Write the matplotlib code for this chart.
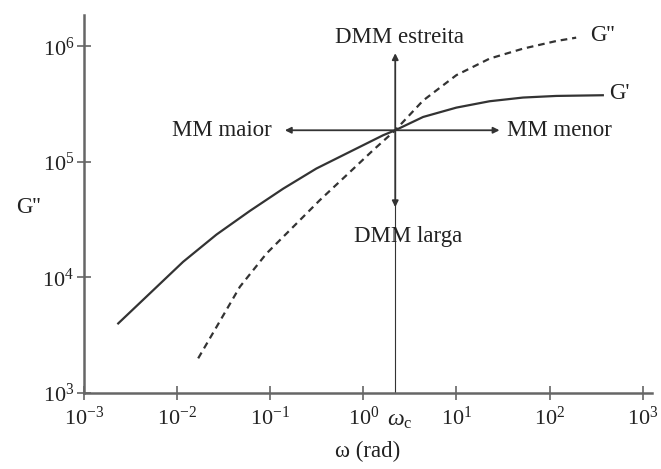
import matplotlib
matplotlib.use('Agg')
import matplotlib.pyplot as plt

plt.rcParams['font.family'] = ['Liberation Serif', 'DejaVu Serif']
plt.rcParams['mathtext.fontset'] = 'custom'
plt.rcParams['mathtext.rm'] = 'Liberation Serif'
plt.rcParams['mathtext.it'] = 'Liberation Serif:italic'

# storage modulus G'
w_g1 = [0.00233, 0.0051, 0.0116, 0.0265, 0.0604, 0.1374, 0.313, 0.714, 1.63, 2.2,
        4.38, 9.98, 22.7, 51.8, 118, 373]
g1 = [4000, 7280, 13650, 23500, 37600, 58500, 87500, 121900, 169800, 187500,
      244300, 294400, 334200, 359700, 371500, 376700]

# loss modulus G''
w_g2 = [0.01683, 0.02655, 0.0472, 0.0912, 0.1762, 0.3404, 0.659, 1.27, 1.92, 2.2,
        4.38, 9.98, 22.7, 51.8, 118, 193]
g2 = [1995, 3741, 8299, 16110, 27350, 46560, 76560, 125900, 169800, 187500,
      338800, 562000, 781600, 952800, 1109000, 1186000]

# crossover point
w_c = 2.2
g_c = 187500

x_ticks = [1e-3, 1e-2, 1e-1, 1e0, 1e1, 1e2, 1e3]
x_labels = ['$10^{-3}$', '$10^{-2}$', '$10^{-1}$', '$10^{0}$', '$10^{1}$', '$10^{2}$', '$10^{3}$']
y_ticks = [1e3, 1e4, 1e5, 1e6]
y_labels = ['$10^{3}$', '$10^{4}$', '$10^{5}$', '$10^{6}$']

ink = '#333333'
txt = '#222222'
axis_col = '#666666'

fig = plt.figure(figsize=(6.61, 4.69), dpi=100)
ax = fig.add_axes([0.1271, 0.162, 0.8593, 0.806])
ax.set_xscale('log')
ax.set_yscale('log')
ax.set_xlim(1e-3, 10**3.1)
ax.set_ylim(1e3, 10**6.27)

ax.plot(w_g1, g1, color=ink, lw=1.6, solid_joinstyle='round')
ax.plot(w_g2, g2, color=ink, lw=1.6, linestyle=(0, (3, 2.2)))

# thin line at the crossover frequency
ax.plot([w_c, w_c], [1e3, g_c], color=ink, lw=0.8)

# arrows from the crossover
arrow = dict(arrowstyle='-|>', color=ink, lw=1.3, mutation_scale=9, shrinkA=0, shrinkB=0)
ax.annotate('', xy=(w_c, 870000), xytext=(w_c, g_c), arrowprops=arrow)
ax.annotate('', xy=(w_c, 40500), xytext=(w_c, g_c), arrowprops=arrow)
ax.annotate('', xy=(0.1435, g_c), xytext=(w_c, g_c), arrowprops=arrow)
ax.annotate('', xy=(29, g_c), xytext=(w_c, g_c), arrowprops=arrow)

fs = 16.5
ax.text(2.45, 1.19e6, 'DMM estreita', ha='center', va='center', fontsize=fs, color=txt)
ax.text(3.0, 22400, 'DMM larga', ha='center', va='center', fontsize=fs, color=txt)
ax.text(0.104, g_c, 'MM maior', ha='right', va='center', fontsize=fs, color=txt)
ax.text(34.6, g_c, 'MM menor', ha='left', va='center', fontsize=fs, color=txt)
ax.text(270, 1.24e6, "G''", ha='left', va='center', fontsize=fs, color=txt)
ax.text(440, 392000, "G'", ha='left', va='center', fontsize=fs, color=txt)

ax.set_xticks(x_ticks)
ax.set_xticklabels(x_labels)
ax.set_yticks(y_ticks)
ax.set_yticklabels(y_labels)
ax.minorticks_off()
ax.tick_params(direction='inout', length=10, width=1.2, color=axis_col,
               labelsize=16, labelcolor=txt)
ax.tick_params(axis='x', pad=5)
ax.tick_params(axis='y', pad=2)

ax.text(2.45, 10**2.76, r'$\omega_{\rm c}$', ha='center', va='center',
        fontsize=17, color=txt, clip_on=False)

for side in ['top', 'right']:
    ax.spines[side].set_visible(False)
for side in ['left', 'bottom']:
    ax.spines[side].set_color(axis_col)
    ax.spines[side].set_linewidth(1.8)

ax.set_xlabel('ω (rad)', fontsize=16.5, color=txt, labelpad=8)
ax.set_ylabel("G''", fontsize=16.5, rotation=0, color=txt, ha='center', va='center')
ax.yaxis.set_label_coords(-0.0986, 0.492)

fig.savefig('out.png', dpi=100)
